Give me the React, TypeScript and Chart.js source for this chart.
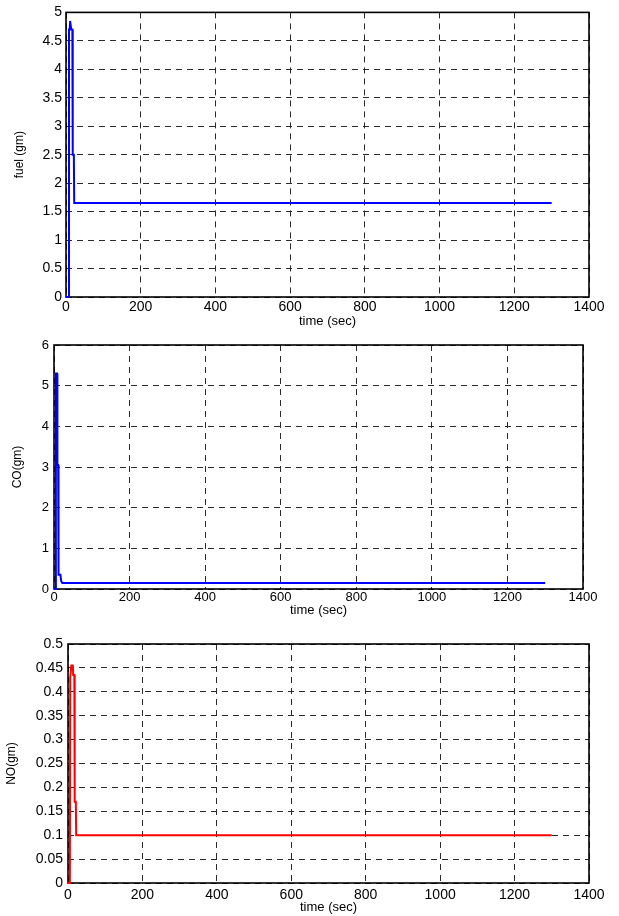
import React, { useEffect, useRef } from 'react';
import { Chart, registerables } from 'chart.js';

Chart.register(...registerables);

// ---------- data ----------
const timeTicks = [0, 200, 400, 600, 800, 1000, 1200, 1400];

const fuelTime = [0, 7, 8, 10, 11, 13, 14, 17, 18, 21, 22, 1300];
const fuelValues = [0, 0, 4.7, 4.7, 4.85, 4.85, 4.7, 4.7, 2.5, 2.5, 1.65, 1.65];
const fuelTicks = [0, 0.5, 1, 1.5, 2, 2.5, 3, 3.5, 4, 4.5, 5];

const coTime = [0, 4, 5, 8, 9, 11, 12, 17, 19, 22, 1300];
const coValues = [0, 0, 5.3, 5.3, 3.05, 3.05, 0.35, 0.35, 0.2, 0.15, 0.15];
const coTicks = [0, 1, 2, 3, 4, 5, 6];

const noTime = [0, 5, 6, 8, 9, 13, 14, 17, 18, 21, 22, 1300];
const noValues = [0, 0, 0.43, 0.43, 0.455, 0.455, 0.435, 0.435, 0.17, 0.17, 0.1, 0.1];
const noTicks = [0, 0.05, 0.1, 0.15, 0.2, 0.25, 0.3, 0.35, 0.4, 0.45, 0.5];

const FONT = '"Liberation Sans", Arial, Helvetica, sans-serif';

const framePlugin = {
  id: 'frame',
  beforeDatasetsDraw(chart: any) {
    const { ctx, chartArea: a } = chart;
    ctx.save();
    ctx.strokeStyle = '#000';
    ctx.lineWidth = 1.6;
    ctx.setLineDash([]);
    ctx.strokeRect(a.left, a.top, a.right - a.left, a.bottom - a.top);
    ctx.restore();
  },
};

type PlotProps = {
  top: number;
  height: number;
  left: number;
  right: number;
  padTop: number;
  axisHeight: number;
  tickPad: number;
  tickSize: number;
  yTickPad: number;
  xTitlePad: number;
  yTitleCenter: number;
  times: number[];
  values: number[];
  yTicks: number[];
  color: string;
  yTitle: string;
};

function Plot(p: PlotProps) {
  const ref = useRef<HTMLCanvasElement>(null);
  useEffect(() => {
    const canvas = ref.current!;
    const data = p.times.map((t, i) => ({ x: t, y: p.values[i] }));
    const yMax = p.yTicks[p.yTicks.length - 1];
    const gridCfg = {
      color: '#2a2a2a',
      lineWidth: 1,
      drawTicks: false,
    };
    const chart = new Chart(canvas, {
      type: 'line',
      data: {
        datasets: [
          {
            data,
            borderColor: p.color,
            borderWidth: 2,
            pointRadius: 0,
            tension: 0,
            fill: false,
            clip: false as any,
          },
        ],
      },
      options: {
        animation: false,
        responsive: false,
        devicePixelRatio: 1,
        layout: { padding: { top: p.padTop, right: 619 - p.right, left: 0, bottom: 0 } },
        plugins: { legend: { display: false }, tooltip: { enabled: false } },
        scales: {
          x: {
            type: 'linear',
            min: 0,
            max: 1400,
            afterBuildTicks: (s: any) => {
              s.ticks = timeTicks.map((v) => ({ value: v }));
            },
            afterFit: (s: any) => {
              s.height = p.axisHeight;
            },
            grid: gridCfg,
            border: { display: false, dash: [6, 5] },
            ticks: {
              color: '#000',
              font: { family: FONT, size: p.tickSize },
              padding: p.tickPad,
              maxRotation: 0,
              autoSkip: false,
              callback: (v: any) => String(v),
            },
            title: {
              display: true,
              text: 'time (sec)',
              color: '#000',
              font: { family: FONT, size: 13 },
              padding: { top: 0, bottom: p.xTitlePad },
            },
          },
          y: {
            type: 'linear',
            min: 0,
            max: yMax,
            afterBuildTicks: (s: any) => {
              s.ticks = p.yTicks.map((v) => ({ value: v }));
            },
            afterFit: (s: any) => {
              s.width = p.left;
            },
            grid: gridCfg,
            border: { display: false, dash: [6, 5] },
            ticks: {
              color: '#000',
              font: { family: FONT, size: p.tickSize },
              padding: p.yTickPad,
              autoSkip: false,
              callback: (v: any) => String(Math.round(Number(v) * 1000) / 1000),
            },
            title: {
              display: true,
              text: p.yTitle,
              color: '#000',
              font: { family: FONT, size: 12 },
              padding: { top: p.yTitleCenter - 7.2, bottom: 0 },
            },
          },
        },
      },
      plugins: [framePlugin],
    } as any);
    return () => chart.destroy();
  }, []);
  return (
    <canvas
      ref={ref}
      width={619}
      height={p.height}
      style={{ position: 'absolute', left: 0, top: p.top, width: 619, height: p.height }}
    />
  );
}

export default function App() {
  return (
    <div
      style={{
        position: 'absolute',
        left: 0,
        top: 0,
        width: 619,
        height: 916,
        background: '#fff',
        overflow: 'hidden',
      }}
    >
      <Plot
        top={0}
        height={330}
        left={66}
        right={589}
        padTop={12}
        axisHeight={33}
        tickPad={2}
        tickSize={14}
        yTickPad={4}
        xTitlePad={1}
        yTitleCenter={20}
        times={fuelTime}
        values={fuelValues}
        yTicks={fuelTicks}
        color="#0000ff"
        yTitle="fuel (gm)"
      />
      <Plot
        top={330}
        height={295}
        left={54}
        right={583}
        padTop={15}
        axisHeight={36}
        tickPad={1}
        tickSize={13}
        yTickPad={5}
        xTitlePad={7}
        yTitleCenter={18}
        times={coTime}
        values={coValues}
        yTicks={coTicks}
        color="#0000ff"
        yTitle="CO(gm)"
      />
      <Plot
        top={625}
        height={291}
        left={68}
        right={589}
        padTop={19}
        axisHeight={33}
        tickPad={4}
        tickSize={14}
        yTickPad={5}
        xTitlePad={1}
        yTitleCenter={12}
        times={noTime}
        values={noValues}
        yTicks={noTicks}
        color="#ff0000"
        yTitle="NO(gm)"
      />
    </div>
  );
}
